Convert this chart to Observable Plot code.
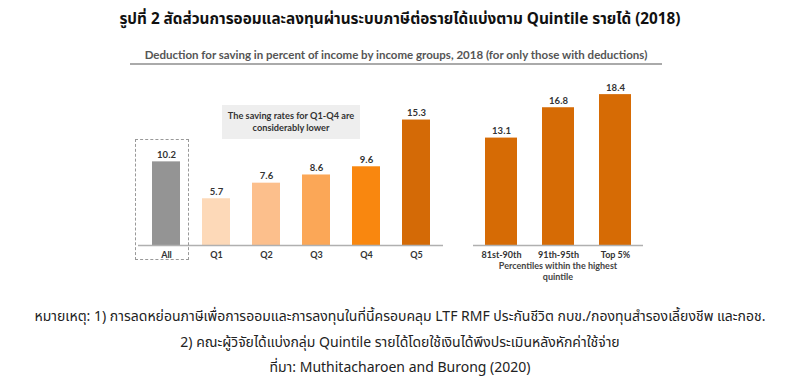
<!DOCTYPE html>
<html><head><meta charset="utf-8">
<script src="https://cdn.jsdelivr.net/npm/d3@7"></script>
<script src="https://cdn.jsdelivr.net/npm/@observablehq/plot@0.6"></script>
<style>
body{margin:0;background:#fff;width:800px;height:381px;overflow:hidden;position:relative;font-family:"Noto Sans","Noto Sans Thai",Lato,sans-serif;}
#title{position:absolute;top:8px;left:0;width:800px;text-align:center;font-weight:bold;font-size:15.3px;color:#111;}
#sub{position:absolute;top:48px;left:130px;width:532px;text-align:center;font-weight:bold;font-size:11.5px;color:#555;font-family:Lato,sans-serif;border-bottom:2px solid #aaa;padding-bottom:2px;}
#left{position:absolute;left:0;top:75px;}
#right{position:absolute;left:460px;top:75px;}
#note{position:absolute;top:303px;left:0;width:800px;text-align:center;font-size:14px;color:#222;line-height:25.5px;}
#box{position:absolute;left:135px;top:139px;width:54px;height:121px;border:1.2px dashed #999;box-sizing:border-box;}
#ann{position:absolute;left:222px;top:105px;width:138px;height:34px;background:#eeeeee;font-family:Lato,sans-serif;font-weight:bold;font-size:9.2px;color:#333;text-align:center;line-height:12px;padding-top:5px;box-sizing:border-box;}
#plab{position:absolute;left:473px;top:261px;width:170px;text-align:center;font-family:Lato,sans-serif;font-weight:bold;font-size:9px;color:#444;line-height:10.5px;}
</style></head><body>
<div id="title">รูปที่ 2 สัดส่วนการออมและลงทุนผ่านระบบภาษีต่อรายได้แบ่งตาม Quintile รายได้ (2018)</div>
<div id="sub">Deduction for saving in percent of income by income groups, 2018 (for only those with deductions)</div>
<div id="left"></div>
<div id="right"></div>
<div id="box"></div>
<div id="ann">The saving rates for Q1-Q4 are<br>considerably lower</div>
<div id="plab">Percentiles within the highest<br>quintile</div>
<div id="note">หมายเหตุ: 1) การลดหย่อนภาษีเพื่อการออมและการลงทุนในที่นี้ครอบคลุม LTF RMF ประกันชีวิต กบข./กองทุนสำรองเลี้ยงชีพ และกอช.<br>2) คณะผู้วิจัยได้แบ่งกลุ่ม Quintile รายได้โดยใช้เงินได้พึงประเมินหลังหักค่าใช้จ่าย<br>ที่มา: Muthitacharoen and Burong (2020)</div>
<script>
const leftCats = ["All","Q1","Q2","Q3","Q4","Q5"];
const leftVals = [10.2,5.7,7.6,8.6,9.6,15.3];
const leftColors = ["#949494","#fdd9b8","#fcbf8c","#fba757","#f9870f","#d46a06"];
const rightCats = ["81st-90th","91th-95th","Top 5%"];
const rightVals = [13.1,16.8,18.4];
const rightColor = "#d66b05";

const leftData = leftCats.map((c,i)=>({cat:c,v:leftVals[i],col:leftColors[i]}));
const rightData = rightCats.map((c,i)=>({cat:c,v:rightVals[i],col:rightColor}));

function chart(data, cats, opts){
  return Plot.plot({
    width: opts.width, height: 215,
    marginLeft: opts.ml, marginRight: opts.mr, marginTop: 6, marginBottom: 45,
    style:{fontFamily:"Lato,sans-serif", fontSize:"9px", fontWeight:"bold", color:"#333", background:"transparent"},
    x:{domain:cats, paddingInner:opts.pi, paddingOuter:opts.po, label:null, tickSize:0, tickPadding:6},
    y:{domain:[0,20], axis:null},
    marks:[
      Plot.barY(data,{x:"cat",y:"v",fill:"col"}),
      Plot.ruleY([0],{stroke:"#b0b0b0",strokeWidth:1.5}),
      Plot.text(data,{x:"cat",y:"v",text:d=>d.v.toFixed(1),dy:-7,fill:"#333",fontWeight:"bold",fontSize:9.5})
    ]
  });
}
document.getElementById("left").append(chart(leftData,leftCats,{width:460,ml:138,mr:17,pi:0.44,po:0.22}));
document.getElementById("right").append(chart(rightData,rightCats,{width:340,ml:13,mr:157,pi:0.443,po:0.2}));
</script>
</body></html>
